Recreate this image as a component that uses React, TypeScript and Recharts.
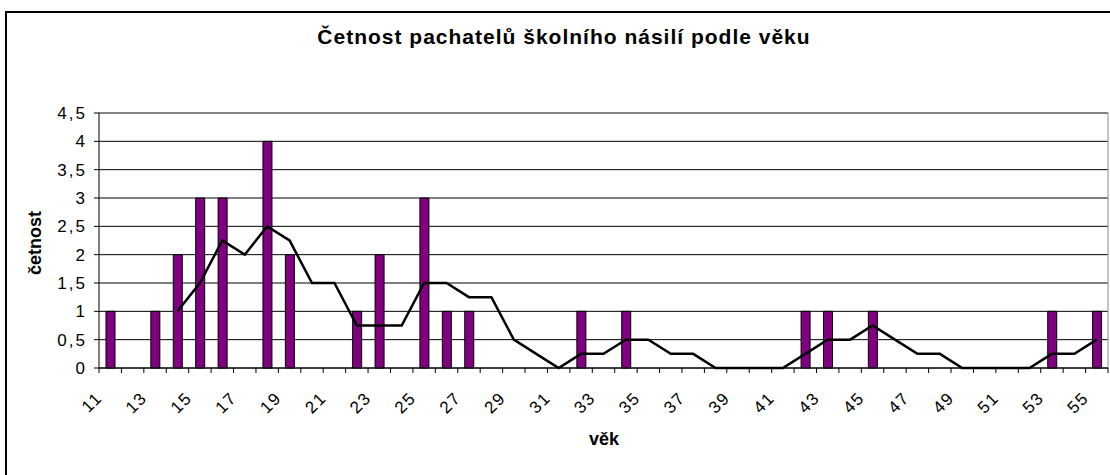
import React from 'react'
import { ComposedChart, Bar, Line, XAxis, YAxis, CartesianGrid } from 'recharts'

const ages = [
  '11', '12', '13', '14', '15', '16', '17', '18', '19', '20',
  '21', '22', '23', '24', '25', '26', '27', '28', '29', '30',
  '31', '32', '33', '34', '35', '36', '37', '38', '39', '40',
  '41', '42', '43', '44', '45', '46', '47', '48', '49', '50',
  '51', '52', '53', '54', '55'
]

const counts = [
  1, 0, 1, 2, 3, 3, 0, 4, 2, 0,
  0, 1, 2, 0, 3, 1, 1, 0, 0, 0,
  0, 1, 0, 1, 0, 0, 0, 0, 0, 0,
  0, 1, 1, 0, 1, 0, 0, 0, 0, 0,
  0, 0, 1, 0, 1
]

// klouzavý průměr (4 období)
const trend = [
  null, null, null, 1, 1.5, 2.25, 2, 2.5, 2.25, 1.5,
  1.5, 0.75, 0.75, 0.75, 1.5, 1.5, 1.25, 1.25, 0.5, 0.25,
  0, 0.25, 0.25, 0.5, 0.5, 0.25, 0.25, 0, 0, 0,
  0, 0.25, 0.5, 0.5, 0.75, 0.5, 0.25, 0.25, 0, 0,
  0, 0, 0.25, 0.25, 0.5
]

const yTicks = [0, 0.5, 1, 1.5, 2, 2.5, 3, 3.5, 4, 4.5]

const data = ages.map((age, i) => ({ age, count: counts[i], trend: trend[i] }))

const FONT = '"Liberation Sans", Arial, sans-serif'
const TICK_SIZE = 5
const TICK_MARGIN = 0

const AgeTick = (props: any) => {
  const { x, y, payload } = props
  const axisY = y - TICK_SIZE - TICK_MARGIN
  const half = payload.offset || 0
  const showLabel = payload.index % 2 === 0
  const isLast = payload.index === ages.length - 1
  const ax = x - 7
  const ay = axisY + 31
  return (
    <g>
      <line x1={x - half} x2={x - half} y1={axisY} y2={axisY + TICK_SIZE} stroke="#000" />
      {isLast && <line x1={x + half} x2={x + half} y1={axisY} y2={axisY + TICK_SIZE} stroke="#000" />}
      {showLabel && (
        <text
          x={ax}
          y={ay}
          textAnchor="end"
          transform={`rotate(-45, ${ax}, ${ay})`}
          fill="#000"
          style={{ fontFamily: FONT, fontSize: 17, letterSpacing: '1.5px' }}
        >
          {payload.value}
        </text>
      )}
    </g>
  )
}

const CountTick = (props: any) => {
  const { x, y, payload } = props
  return (
    <text
      x={x + 2}
      y={y}
      dy="0.36em"
      textAnchor="end"
      fill="#000"
      style={{ fontFamily: FONT, fontSize: 17, letterSpacing: '2px' }}
    >
      {String(payload.value).replace('.', ',')}
    </text>
  )
}

export default function App() {
  return (
    <div style={{ position: 'absolute', left: 0, top: 0, width: 1110, height: 475, overflow: 'hidden', background: '#fff' }}>
      <div style={{
        position: 'absolute', left: 5, top: 11, width: 1140, height: 520,
        border: '2px solid #000', boxSizing: 'border-box'
      }} />
      <div style={{
        position: 'absolute', left: 0, top: 24, width: 1128, textAlign: 'center',
        fontFamily: FONT, fontWeight: 'bold', fontSize: 21, letterSpacing: '1px', color: '#000',
        lineHeight: '26px'
      }}>
        Četnost pachatelů školního násilí podle věku
      </div>
      <div style={{
        position: 'absolute', left: 35, top: 243, width: 0, height: 0
      }}>
        <div style={{
          position: 'absolute', left: -60, top: -11, width: 120, textAlign: 'center',
          transform: 'rotate(-90deg)', fontFamily: FONT, fontWeight: 'bold', fontSize: 18,
          lineHeight: '22px', color: '#000'
        }}>
          četnost
        </div>
      </div>
      <div style={{
        position: 'absolute', left: 544, top: 428, width: 120, textAlign: 'center',
        fontFamily: FONT, fontWeight: 'bold', fontSize: 18, lineHeight: '22px', color: '#000'
      }}>
        věk
      </div>
      <div style={{ position: 'absolute', left: 0, top: 0 }}>
        <ComposedChart
          width={1110}
          height={475}
          data={data}
          margin={{ top: 113, right: 2, bottom: 0, left: 0 }}
          barCategoryGap={0}
        >
          <CartesianGrid vertical={false} stroke="#000" />
          <CartesianGrid
            stroke="#8c8c8c"
            horizontalCoordinatesGenerator={({ offset }: any) => [offset.top]}
            verticalCoordinatesGenerator={({ offset }: any) => [offset.left + offset.width]}
          />
          <XAxis
            dataKey="age"
            type="category"
            interval={0}
            height={107}
            tickLine={false}
            tickSize={TICK_SIZE}
            tickMargin={TICK_MARGIN}
            axisLine={{ stroke: '#000' }}
            tick={<AgeTick />}
          />
          <YAxis
            width={99}
            domain={[0, 4.5]}
            ticks={yTicks}
            interval={0}
            tickSize={5}
            tickMargin={9}
            axisLine={{ stroke: '#000' }}
            tickLine={{ stroke: '#000' }}
            tick={<CountTick />}
          />
          <Bar
            dataKey="count"
            fill="#800080"
            stroke="#000"
            strokeWidth={1}
            barSize={9}
            isAnimationActive={false}
          />
          <Line
            dataKey="trend"
            type="linear"
            stroke="#000"
            strokeWidth={2.5}
            dot={false}
            activeDot={false}
            connectNulls={false}
            isAnimationActive={false}
          />
        </ComposedChart>
      </div>
    </div>
  )
}
